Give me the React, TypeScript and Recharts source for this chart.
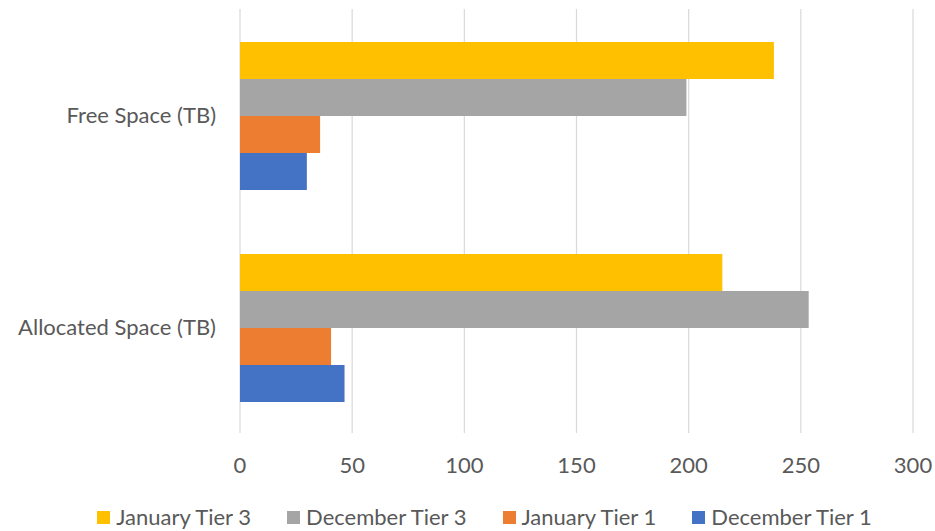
import React from "react";
import { Bar, BarChart, CartesianGrid, Legend, XAxis, YAxis } from "recharts";

const categories = ["Free Space (TB)", "Allocated Space (TB)"];
const januaryTier3 = [238, 215];
const decemberTier3 = [199, 253.5];
const januaryTier1 = [35.7, 40.6];
const decemberTier1 = [29.8, 46.6];
const xTicks = [0, 50, 100, 150, 200, 250, 300];

const series = [
  { key: "januaryTier3", name: "January Tier 3", color: "#FFC000" },
  { key: "decemberTier3", name: "December Tier 3", color: "#A5A5A5" },
  { key: "januaryTier1", name: "January Tier 1", color: "#ED7D31" },
  { key: "decemberTier1", name: "December Tier 1", color: "#4472C4" },
];

const data = categories.map((category, i) => ({
  category,
  januaryTier3: januaryTier3[i],
  decemberTier3: decemberTier3[i],
  januaryTier1: januaryTier1[i],
  decemberTier1: decemberTier1[i],
}));

const FONT = "Lato, 'Noto Sans', sans-serif";
const TEXT = "#595959";

function SquareLegend() {
  return (
    <div
      style={{
        display: "flex",
        justifyContent: "center",
        gap: 36,
        paddingLeft: 34,
        fontFamily: FONT,
        fontSize: 22,
        color: TEXT,
        lineHeight: "28px",
      }}
    >
      {series.map((s) => (
        <div key={s.key} style={{ display: "flex", alignItems: "center" }}>
          <span style={{ width: 13, height: 13, background: s.color, marginRight: 6 }} />
          <span>{s.name}</span>
        </div>
      ))}
    </div>
  );
}

export default function App() {
  return (
    <div style={{ position: "absolute", left: 0, top: 0, background: "#fff" }}>
      <BarChart
        width={935}
        height={531}
        data={data}
        layout="vertical"
        margin={{ top: 9, right: 22, left: 0, bottom: 30 }}
        barCategoryGap={33}
        barGap={0}
      >
        <CartesianGrid horizontal={false} stroke="#D9D9D9" strokeWidth={1.2} />
        <XAxis
          type="number"
          domain={[0, 300]}
          ticks={xTicks}
          axisLine={false}
          tickLine={false}
          tickSize={0}
          tickMargin={24}
          tick={{ fontSize: 22, fill: TEXT, fontFamily: FONT }}
          height={40}
        />
        <YAxis
          type="category"
          dataKey="category"
          width={240}
          axisLine={false}
          tickLine={false}
          tickSize={0}
          tickMargin={24}
          tick={{ fontSize: 22, fill: TEXT, fontFamily: FONT }}
        />
        <Legend
          content={<SquareLegend />}
          wrapperStyle={{ left: 0, width: 935, top: 503, bottom: "auto" }}
        />
        {series.map((s) => (
          <Bar key={s.key} dataKey={s.key} name={s.name} fill={s.color} isAnimationActive={false} />
        ))}
      </BarChart>
    </div>
  );
}
